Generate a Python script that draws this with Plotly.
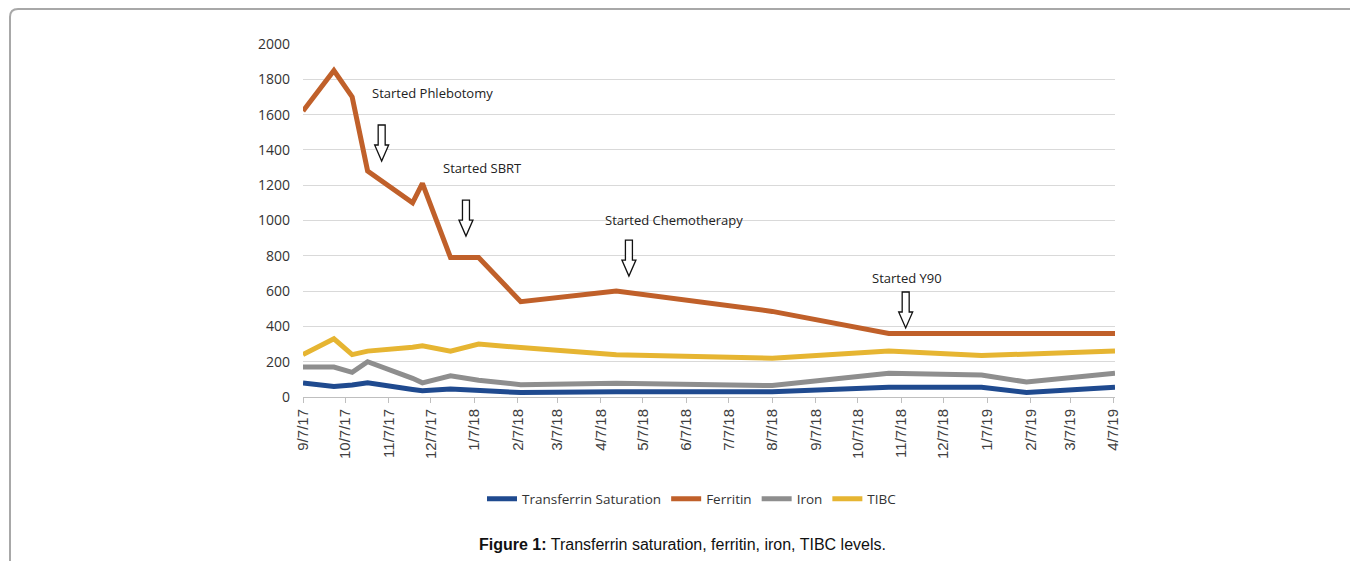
import plotly.graph_objects as go

# ---- data ----
dates = ["2017-09-07", "2017-09-29", "2017-10-12", "2017-10-23", "2017-11-24",
         "2017-12-01", "2017-12-21", "2018-01-10", "2018-02-09", "2018-04-18",
         "2018-08-07", "2018-10-29", "2019-01-03", "2019-02-04", "2019-04-08"]
transferrin_sat = [80, 60, 68, 80, 43, 35, 45, 35, 25, 30, 30, 55, 55, 25, 55]
ferritin = [1620, 1850, 1700, 1280, 1100, 1210, 790, 790, 540, 600, 485, 360, 360, 360, 360]
iron = [170, 170, 140, 200, 106, 80, 120, 95, 70, 78, 65, 135, 125, 85, 135]
tibc = [240, 330, 240, 260, 282, 290, 260, 300, 280, 240, 220, 260, 235, 245, 260]

series_names = ["Transferrin Saturation", "Ferritin", "Iron", "TIBC"]
series_colors = ["#1F4A8F", "#C0602A", "#8E8E8E", "#E6B532"]

tick_dates = ["2017-09-07", "2017-10-07", "2017-11-07", "2017-12-07", "2018-01-07",
              "2018-02-07", "2018-03-07", "2018-04-07", "2018-05-07", "2018-06-07",
              "2018-07-07", "2018-08-07", "2018-09-07", "2018-10-07", "2018-11-07",
              "2018-12-07", "2019-01-07", "2019-02-07", "2019-03-07", "2019-04-07"]
tick_labels = ["9/7/17", "10/7/17", "11/7/17", "12/7/17", "1/7/18", "2/7/18", "3/7/18",
               "4/7/18", "5/7/18", "6/7/18", "7/7/18", "8/7/18", "9/7/18", "10/7/18",
               "11/7/18", "12/7/18", "1/7/19", "2/7/19", "3/7/19", "4/7/19"]

# events: label text position and arrow position
event_labels = ["Started Phlebotomy", "Started SBRT", "Started Chemotherapy", "Started Y90"]
event_text_x = ["2017-12-08", "2018-01-13", "2018-05-29", "2018-11-11"]
event_text_y = [1722, 1297, 1003, 674]
event_arrow_x = ["2017-11-02", "2018-01-01", "2018-04-27", "2018-11-10"]
event_arrow_y = [1541, 1116, 889, 595]

fig = go.Figure()
for name, vals, col in zip(series_names, [transferrin_sat, ferritin, iron, tibc], series_colors):
    fig.add_trace(go.Scatter(x=dates, y=vals, mode="lines", name=name,
                             line=dict(color=col, width=5)))

OFF = 8  # page body margin
W, H = 1358 - OFF, 561 - OFF
L, R, T, B = 303 - OFF, 243, 44 - OFF, 164
pw, ph = W - L - R, H - T - B

def px(xref_px):
    return (xref_px - OFF - L) / pw

def py(yref_px):
    return (H - B - (yref_px - OFF)) / ph

annotations = []
for txt, tx, ty in zip(event_labels, event_text_x, event_text_y):
    annotations.append(dict(x=tx, y=ty, xref="x", yref="y", text=txt, showarrow=False,
                            font=dict(family="Open Sans", size=13, color="#222222"),
                            xanchor="center", yanchor="middle"))

annotations.append(dict(x=px(682), y=py(544), xref="paper", yref="paper",
                        text="<b>Figure 1:</b> Transferrin saturation, ferritin, iron, TIBC levels.",
                        showarrow=False, xanchor="center", yanchor="middle",
                        font=dict(family="Liberation Sans, Arial", size=16, color="#111111")))

shapes = []
arrow_path = "M -3.5,0 L 3.5,0 L 3.5,-20 L 7,-20 L 0,-36 L -7,-20 L -3.5,-20 Z"
for ax_, ay_ in zip(event_arrow_x, event_arrow_y):
    shapes.append(dict(type="path", xref="x", yref="y", xsizemode="pixel", ysizemode="pixel",
                       xanchor=ax_, yanchor=ay_, path=arrow_path,
                       line=dict(color="#111111", width=1.3), fillcolor="white", layer="above"))

# outer rounded frame (top and left edges)
fx0, fy_top, fy_bot, fx1 = px(10), py(9), py(561), px(1358)
rx, ry = 8 / pw, 8 / ph
frame_path = (f"M {fx0},{fy_bot} L {fx0},{fy_top - ry} "
              f"Q {fx0},{fy_top} {fx0 + rx},{fy_top} L {fx1},{fy_top}")
shapes.append(dict(type="path", xref="paper", yref="paper", path=frame_path,
                   line=dict(color="#A8A8A8", width=2)))

fig.update_layout(
    width=W, height=H,
    margin=dict(l=L, r=R, t=T, b=B, pad=0),
    paper_bgcolor="white", plot_bgcolor="white",
    showlegend=True,
    legend=dict(orientation="h", x=px(692), xanchor="center", y=py(499), yanchor="middle",
                font=dict(family="Open Sans", size=13.5, color="#333333"),
                itemwidth=30, tracegroupgap=0),
    xaxis=dict(type="date", range=[dates[0], dates[-1]], tickvals=tick_dates, ticktext=tick_labels,
               tickangle=-90, ticks="outside", ticklen=5, tickcolor="#BFBFBF",
               showline=True, linecolor="#BFBFBF", linewidth=1, showgrid=False,
               tickfont=dict(family="Liberation Sans, Arial", size=15, color="#404040"),
               zeroline=False),
    yaxis=dict(range=[0, 2000], tickvals=list(range(0, 2001, 200)), showgrid=True,
               gridcolor="#D9D9D9", gridwidth=1, zeroline=False, showline=False, ticks="",
               ticklabelstandoff=12,
               tickfont=dict(family="Open Sans", size=14, color="#333333")),
    annotations=annotations, shapes=shapes,
)

fig.write_html("out.html")
